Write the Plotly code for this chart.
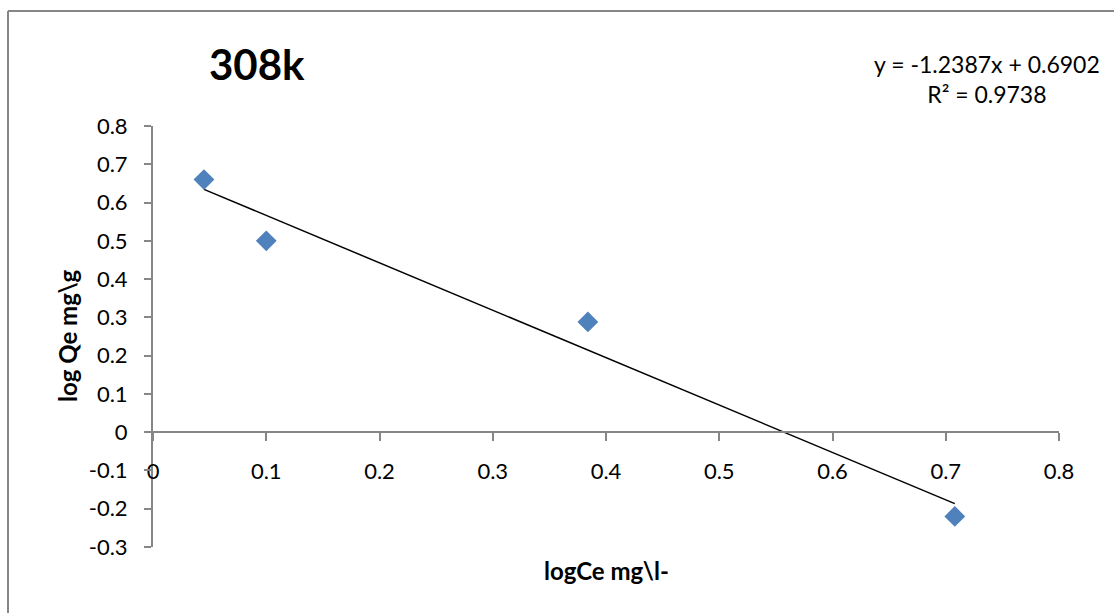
import plotly.graph_objects as go

# Data
log_ce = [0.045, 0.100, 0.384, 0.708]
log_qe = [0.660, 0.500, 0.288, -0.220]
slope = -1.2387
intercept = 0.6902
r2 = 0.9738
x_ticks = [0, 0.1, 0.2, 0.3, 0.4, 0.5, 0.6, 0.7, 0.8]
y_ticks = [0.8, 0.7, 0.6, 0.5, 0.4, 0.3, 0.2, 0.1, 0, -0.1, -0.2, -0.3]

W, H = 1114, 613
L, R, T, B = 153, 55, 126, 66
pw, ph = W - L - R, H - T - B

def px_x(p):
    return (p - L) / pw

def px_y(p):
    return 1 - (p - T) / ph

FONT = "Lato"
GRAY = "#868686"

trend_x = [min(log_ce), max(log_ce)]
trend_y = [slope * v + intercept for v in trend_x]

fig = go.Figure()
fig.add_trace(go.Scatter(x=trend_x, y=trend_y, mode="lines",
                         line=dict(color="black", width=1.5),
                         showlegend=False, hoverinfo="skip"))
fig.add_trace(go.Scatter(x=log_ce, y=log_qe, mode="markers",
                         marker=dict(symbol="diamond", size=16, color="#4F81BD"),
                         showlegend=False))

ymin, ymax = -0.3, 0.8
fig.update_layout(
    width=W, height=H,
    margin=dict(l=L, r=R, t=T, b=B),
    paper_bgcolor="white", plot_bgcolor="white",
    font=dict(family=FONT, color="black", size=21),
    xaxis=dict(range=[0, 0.8], tickvals=x_ticks, ticktext=[f"{v:g}" for v in x_ticks],
               showgrid=False, zeroline=False, showline=True, linecolor=GRAY, linewidth=2,
               ticks="outside", ticklen=8, tickcolor=GRAY, tickwidth=1.5,
               anchor="free", position=(0 - ymin) / (ymax - ymin), side="bottom",
               ticklabelstandoff=11, tickfont=dict(size=22, family=FONT)),
    yaxis=dict(range=[ymin, ymax], tickvals=y_ticks, ticktext=[f"{v:g}" for v in y_ticks],
               showgrid=False, zeroline=False, showline=True, linecolor=GRAY, linewidth=2,
               ticks="outside", ticklen=7, tickcolor=GRAY, tickwidth=1.5,
               ticklabelstandoff=12, tickfont=dict(size=22, family=FONT)),
    showlegend=False,
)

# Border lines (top and left)
fig.add_shape(type="line", xref="paper", yref="paper",
              x0=px_x(8), x1=px_x(1114), y0=px_y(11), y1=px_y(11),
              line=dict(color=GRAY, width=2))
fig.add_shape(type="line", xref="paper", yref="paper",
              x0=px_x(8), x1=px_x(8), y0=px_y(11), y1=px_y(613),
              line=dict(color=GRAY, width=2))

# Title
fig.add_annotation(text="<b>308k</b>", xref="paper", yref="paper",
                   x=px_x(257), y=px_y(64), showarrow=False,
                   font=dict(size=42, family=FONT), xanchor="center", yanchor="middle")
# Equation
fig.add_annotation(text=f"y = {slope}x + {intercept}<br>R² = {r2}", xref="paper", yref="paper",
                   x=px_x(987), y=px_y(79), showarrow=False, align="center",
                   font=dict(size=23, family=FONT), xanchor="center", yanchor="middle")
# Axis titles
fig.add_annotation(text="<b>log Qe mg\\g</b>", xref="paper", yref="paper",
                   x=px_x(67), y=px_y(336), showarrow=False, textangle=-90,
                   font=dict(size=24, family=FONT), xanchor="center", yanchor="middle")
fig.add_annotation(text="<b>logCe mg\\l-</b>", xref="paper", yref="paper",
                   x=px_x(606), y=px_y(570), showarrow=False,
                   font=dict(size=24, family=FONT), xanchor="center", yanchor="middle")

fig.write_html("out.html")
